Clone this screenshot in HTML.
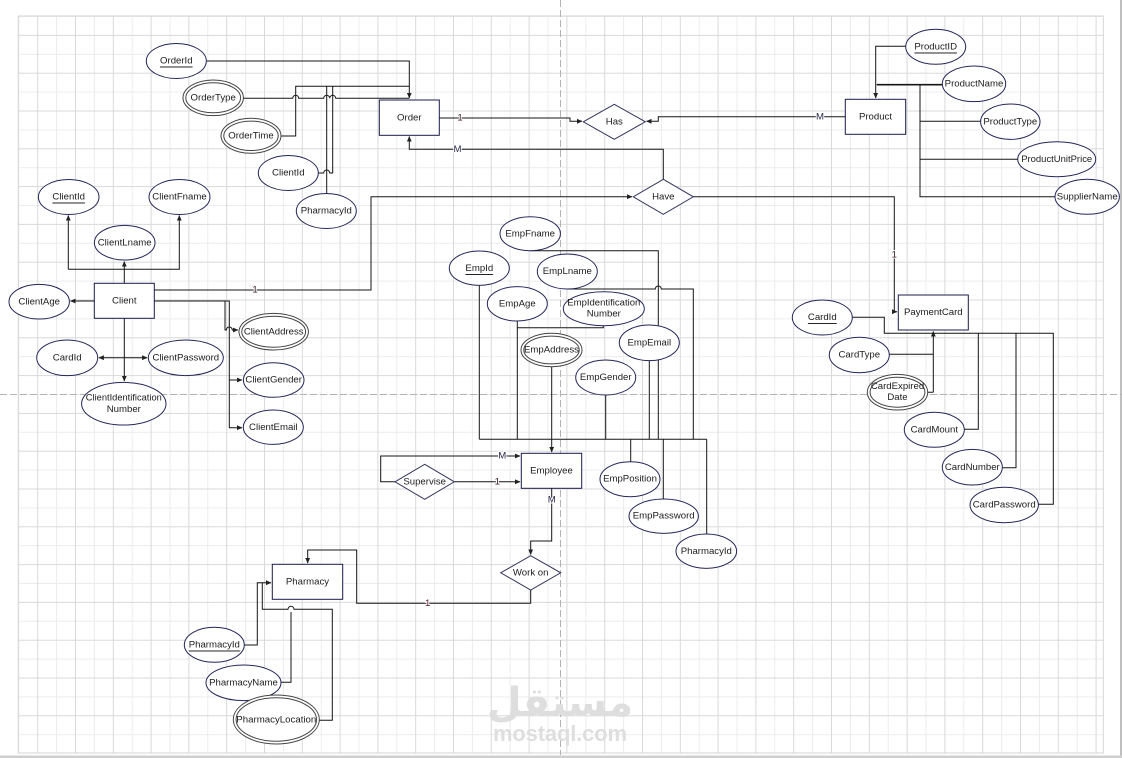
<!DOCTYPE html>
<html><head><meta charset="utf-8"><style>
html,body{margin:0;padding:0;background:#fff;width:1122px;height:758px;overflow:hidden}
svg{position:absolute;left:0;top:0}
text{font-family:"Liberation Sans",Arial,sans-serif;font-size:9.6px;fill:#1c1c1c}
</style></head><body>
<svg width="1122" height="758" viewBox="0 0 1122 758" xmlns="http://www.w3.org/2000/svg">
<defs>
<pattern id="g" x="18.3" y="16" width="37.8" height="37.8" patternUnits="userSpaceOnUse">
<path d="M0.5,0V37.8M0,0.5H37.8" stroke="#ececec" stroke-width="1" fill="none"/>
<path d="M19.4,0V37.8M0,19.4H37.8" stroke="#d9d9d9" stroke-width="1" fill="none"/>
</pattern>
<marker id="a" markerWidth="6" markerHeight="6" refX="5" refY="3" orient="auto" markerUnits="userSpaceOnUse">
<path d="M0,0.6L5.5,3L0,5.4z" fill="#222"/>
</marker>
</defs>
<rect x="18.3" y="16" width="1085" height="737" fill="url(#g)" stroke="#d6d6d6" stroke-width="1"/>
<line x1="1121" y1="0" x2="1121" y2="758" stroke="#aaa" stroke-width="1.5"/>
<rect x="0" y="755.5" width="1122" height="2.5" fill="#cfcfcf"/>
<line x1="560.5" y1="0" x2="560.5" y2="755" stroke="#b3b3b3" stroke-width="1" stroke-dasharray="7 3"/>
<line x1="0" y1="394.5" x2="1122" y2="394.5" stroke="#b3b3b3" stroke-width="1" stroke-dasharray="7 3"/>

<!-- watermark -->
<text x="560" y="716" text-anchor="middle" style="font-family:'DejaVu Sans',sans-serif;font-size:40px;font-weight:bold;fill:#dedede">مستقل</text>
<text x="560" y="741" text-anchor="middle" textLength="134" style="font-size:22px;font-weight:bold;fill:#dedede">mostaql.com</text>

<g fill="none" stroke="#151515" stroke-width="1">
<!-- Order attributes -->
<path d="M206.7,61H409.3V98" marker-end="url(#a)"/>
<path d="M243.3,98.3H292.7a3,3 0 0 1 6,0H323.7a3,3 0 0 1 6,0h0a3,3 0 0 1 6,0H409.3"/>
<path d="M281,136H295.7V86.3H409.3"/>
<path d="M326.7,193.3V86.3"/>
<path d="M318.3,173H323.7a3,3 0 0 1 6,0H332.7V86.3"/>
<!-- Order - Has - Product -->
<path d="M439.3,118H570V121.3H582" marker-end="url(#a)"/>
<path d="M845.3,116.7H658.3V121.3H646.5" marker-end="url(#a)"/>
<path d="M663.3,179.3V149.3H409.3V136.5" marker-end="url(#a)"/>
<path d="M154.3,290H371V196.7H632" marker-end="url(#a)"/>
<path d="M693.3,196.7H894.3V311.7H897" marker-end="url(#a)"/>
<!-- Product attributes -->
<path d="M905.7,46.3H875.7V98" marker-end="url(#a)"/>
<path d="M942.3,84.7H876.7" stroke-width="1.6"/>
<path d="M920,84.7V196.7H1055M920,121.3H980.7M920,159.3H1017.7"/>
<!-- Client -->
<path d="M124.3,283.3V261.5" marker-end="url(#a)"/>
<path d="M68.3,269.3V215.5" marker-end="url(#a)"/>
<path d="M68.3,269.3H179.3V215.5" marker-end="url(#a)"/>
<path d="M94.3,301H70.5" marker-end="url(#a)"/>
<path d="M154.3,301H229.3V427.7H242" marker-end="url(#a)"/>
<path d="M229.3,380H242" marker-end="url(#a)"/>
<path d="M225,301V330H226.3a3,3 0 0 1 6,0H238" marker-end="url(#a)"/>
<path d="M124.3,318.3V381" marker-end="url(#a)"/>
<path d="M123,357.7H98.9" marker-end="url(#a)"/>
<path d="M123,357.7H147.1" marker-end="url(#a)"/>
<!-- Employee attributes -->
<path d="M530,250.7H658.3V439.3"/>
<path d="M479.3,285.3V439.3"/>
<path d="M567.7,289H655.3a3,3 0 0 1 6,0H693.3V439.3"/>
<path d="M517.3,321V439.3"/>
<path d="M603.3,325.7V327.7H517.3"/>
<path d="M551.7,366.7V452" marker-end="url(#a)"/>
<path d="M649.3,360.7V439.3"/>
<path d="M605.7,395V439.3"/>
<path d="M479.3,439.3H706.7"/>
<path d="M630.7,439.3V461.7"/>
<path d="M663.3,439.3V499"/>
<path d="M706.7,439.3V534"/>
<!-- Supervise -->
<path d="M395,481.8H380.7V456H520" marker-end="url(#a)"/>
<path d="M454.3,481.8H520" marker-end="url(#a)"/>
<!-- Work on -->
<path d="M551.7,488.3V541H530.7V554.5" marker-end="url(#a)"/>
<path d="M530.7,590V603.3H356.7V550H307.7V563" marker-end="url(#a)"/>
<!-- Pharmacy -->
<path d="M244.3,645H257.3V582.7H271" marker-end="url(#a)"/>
<path d="M281,682.3H291V612"/>
<path d="M319.3,720.3H332.3V609.3H294a3,3 0 0 0 -6,0H262.3V582.7"/>
<!-- PaymentCard -->
<path d="M933.3,392.3V331.5" marker-end="url(#a)"/>
<path d="M933.3,392.3H927.7M933.3,354.3H889.3"/>
<path d="M852.3,317.3H884.3V333.3H1053.3V504.3H1038.3"/>
<path d="M978.3,333.3V429.3H964.3"/>
<path d="M1016,333.3V467.7H1002.3"/>
</g>

<!-- Entity boxes -->
<g fill="#fff" stroke="#1b1b4b" stroke-width="1">
<rect x="379.3" y="100" width="60" height="35.3"/>
<rect x="845.3" y="99.3" width="60.4" height="35"/>
<rect x="94.3" y="283.3" width="60" height="35"/>
<rect x="898.3" y="295" width="70" height="35"/>
<rect x="521.3" y="453.3" width="60.4" height="35"/>
<rect x="272.3" y="564.3" width="70.4" height="35"/>
</g>
<!-- Relationship diamonds -->
<g fill="#fff" stroke="#33335e" stroke-width="1">
<polygon points="583.3,121.8 614.3,104.3 645.3,121.8 614.3,139.3"/>
<polygon points="633.3,196.8 663.3,179.3 693.3,196.8 663.3,214.3"/>
<polygon points="395,481.8 424.7,464.3 454.3,481.8 424.7,499.3"/>
<polygon points="500.7,572.8 530.7,555.7 560.7,572.8 530.7,590"/>
</g>
<!-- Ellipses -->
<g fill="#fff" stroke="#25255a" stroke-width="1">
<ellipse cx="176.3" cy="61" rx="30" ry="17.5"/>
<ellipse cx="288.3" cy="173" rx="30" ry="17.5"/>
<ellipse cx="326.3" cy="211" rx="30" ry="17.5"/>
<ellipse cx="68.7" cy="197" rx="30.3" ry="17.5"/>
<ellipse cx="179.5" cy="197" rx="30.5" ry="17.5"/>
<ellipse cx="124.7" cy="242.7" rx="30.3" ry="17.3"/>
<ellipse cx="39.2" cy="301.7" rx="30.2" ry="17.3"/>
<ellipse cx="67.2" cy="357.8" rx="30.5" ry="17.8"/>
<ellipse cx="185.8" cy="357.8" rx="37.5" ry="17.8"/>
<ellipse cx="123.8" cy="403.7" rx="42.2" ry="21.3"/>
<ellipse cx="273.7" cy="380" rx="30.3" ry="17.3"/>
<ellipse cx="273.3" cy="427.2" rx="30" ry="17.2"/>
<ellipse cx="935.7" cy="46.8" rx="30" ry="17.5"/>
<ellipse cx="974" cy="83.8" rx="31.7" ry="17.8"/>
<ellipse cx="1010.3" cy="121.7" rx="29.7" ry="17.7"/>
<ellipse cx="1056.7" cy="159.2" rx="39" ry="17.5"/>
<ellipse cx="1087.2" cy="196.8" rx="32.2" ry="17.5"/>
<ellipse cx="530.2" cy="233.7" rx="30.2" ry="17"/>
<ellipse cx="479.3" cy="268.2" rx="30" ry="17.2"/>
<ellipse cx="567.3" cy="271.5" rx="30" ry="17.5"/>
<ellipse cx="517.3" cy="303.8" rx="30" ry="17.2"/>
<ellipse cx="603.8" cy="308.7" rx="40.5" ry="17"/>
<ellipse cx="649.3" cy="342.8" rx="30" ry="17.8"/>
<ellipse cx="605.7" cy="377.5" rx="30" ry="17.5"/>
<ellipse cx="630" cy="479.2" rx="30" ry="17.5"/>
<ellipse cx="663.7" cy="516.2" rx="34.7" ry="17.2"/>
<ellipse cx="706.3" cy="551.2" rx="30.3" ry="17.2"/>
<ellipse cx="214.3" cy="644.8" rx="30" ry="17.5"/>
<ellipse cx="243.5" cy="682.8" rx="37.5" ry="17.8"/>
<ellipse cx="822.3" cy="317.5" rx="30" ry="17.5"/>
<ellipse cx="859.3" cy="355" rx="30" ry="17.7"/>
<ellipse cx="934.3" cy="429.8" rx="30" ry="17.5"/>
<ellipse cx="972.3" cy="467.2" rx="30" ry="17.8"/>
<ellipse cx="1004.2" cy="505" rx="34.2" ry="17.7"/>
</g>
<!-- Double ellipses -->
<g fill="#fff" stroke="#444" stroke-width="1">
<ellipse cx="213.2" cy="97.8" rx="30.2" ry="17.8"/>
<ellipse cx="213.2" cy="97.8" rx="27.4" ry="15"/>
<ellipse cx="251" cy="135.8" rx="30" ry="17.5"/>
<ellipse cx="251" cy="135.8" rx="27.2" ry="14.7"/>
<ellipse cx="273.7" cy="331.7" rx="34.7" ry="18.3"/>
<ellipse cx="273.7" cy="331.7" rx="31.9" ry="15.5"/>
<ellipse cx="551.5" cy="350" rx="30.5" ry="16.7"/>
<ellipse cx="551.5" cy="350" rx="27.7" ry="13.9"/>
<ellipse cx="897.5" cy="392.2" rx="30.2" ry="17.8"/>
<ellipse cx="897.5" cy="392.2" rx="27.4" ry="15"/>
<ellipse cx="276.3" cy="719.5" rx="43" ry="24.5"/>
<ellipse cx="276.3" cy="719.5" rx="40.2" ry="21.7"/>
</g>

<!-- Texts -->
<g text-anchor="middle" dominant-baseline="central">
<text x="409.3" y="118">Order</text>
<text x="875.5" y="117">Product</text>
<text x="124.3" y="301">Client</text>
<text x="933.3" y="312.5">PaymentCard</text>
<text x="551.5" y="471">Employee</text>
<text x="307.5" y="582">Pharmacy</text>
<text x="614.3" y="122">Has</text>
<text x="663.3" y="197">Have</text>
<text x="424.7" y="482">Supervise</text>
<text x="530.7" y="573">Work on</text>

<text x="176.3" y="61" text-decoration="underline">OrderId</text>
<text x="213.2" y="98">OrderType</text>
<text x="251" y="136">OrderTime</text>
<text x="288.3" y="173">ClientId</text>
<text x="326.3" y="211">PharmacyId</text>
<text x="68.7" y="197" text-decoration="underline">ClientId</text>
<text x="179.5" y="197">ClientFname</text>
<text x="124.7" y="243">ClientLname</text>
<text x="39.2" y="302">ClientAge</text>
<text x="67.2" y="358">CardId</text>
<text x="185.8" y="358">ClientPassword</text>
<text x="123.8" y="398" textLength="76" lengthAdjust="spacingAndGlyphs">ClientIdentification</text>
<text x="123.8" y="409.5">Number</text>
<text x="273.7" y="332">ClientAddress</text>
<text x="273.7" y="380">ClientGender</text>
<text x="273.3" y="427.5">ClientEmail</text>
<text x="935.7" y="47" text-decoration="underline">ProductID</text>
<text x="974" y="84">ProductName</text>
<text x="1010.3" y="122">ProductType</text>
<text x="1056.7" y="159.5" textLength="71" lengthAdjust="spacingAndGlyphs">ProductUnitPrice</text>
<text x="1087.2" y="197" textLength="61" lengthAdjust="spacingAndGlyphs">SupplierName</text>
<text x="530.2" y="234">EmpFname</text>
<text x="479.3" y="268.5" text-decoration="underline">EmpId</text>
<text x="567.3" y="271.5">EmpLname</text>
<text x="517.3" y="304">EmpAge</text>
<text x="603.8" y="303" textLength="73" lengthAdjust="spacingAndGlyphs">EmpIdentification</text>
<text x="603.8" y="314">Number</text>
<text x="551.5" y="350">EmpAddress</text>
<text x="649.3" y="343">EmpEmail</text>
<text x="605.7" y="377.5">EmpGender</text>
<text x="630" y="479">EmpPosition</text>
<text x="663.7" y="516">EmpPassword</text>
<text x="706.3" y="551.5">PharmacyId</text>
<text x="214.3" y="645" text-decoration="underline">PharmacyId</text>
<text x="243.5" y="683">PharmacyName</text>
<text x="276.3" y="720" textLength="80" lengthAdjust="spacingAndGlyphs">PharmacyLocation</text>
<text x="822.3" y="317.5" text-decoration="underline">CardId</text>
<text x="859.3" y="355">CardType</text>
<text x="897.5" y="386.5">CardExpired</text>
<text x="897.5" y="397.5">Date</text>
<text x="934.3" y="430">CardMount</text>
<text x="972.3" y="467.5">CardNumber</text>
<text x="1004.2" y="505">CardPassword</text>
</g>
<!-- cardinality labels -->
<g text-anchor="middle" dominant-baseline="central" style="paint-order:stroke" stroke="#fff" stroke-width="2">
<text x="460" y="118" style="fill:#3a1a2a">1</text>
<text x="820" y="117" style="fill:#2a2a4a">M</text>
<text x="457.5" y="149.5" style="fill:#2a2a4a">M</text>
<text x="255" y="290" style="fill:#3a1a2a">1</text>
<text x="894.3" y="255" style="fill:#3a1a2a">1</text>
<text x="502.3" y="456" style="fill:#2a2a4a">M</text>
<text x="497.3" y="482" style="fill:#3a1a2a">1</text>
<text x="551.7" y="500" style="fill:#2a2a4a">M</text>
<text x="427.7" y="603.3" style="fill:#5a1a2a">1</text>
</g>
</svg>
</body></html>
